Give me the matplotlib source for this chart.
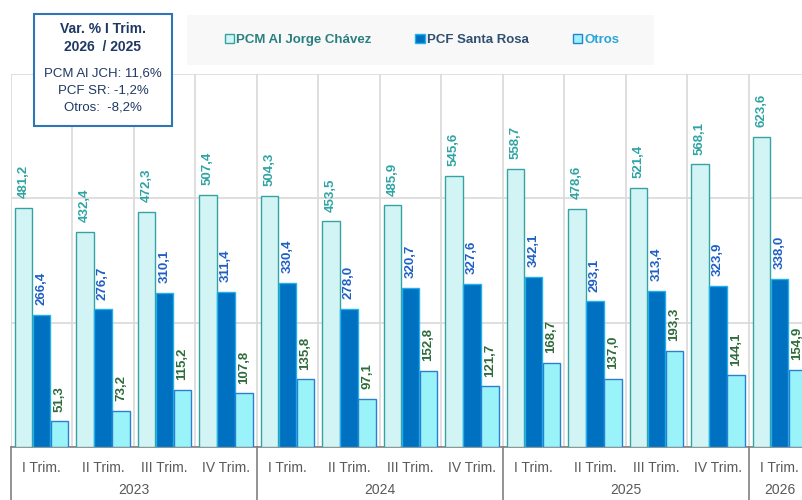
import matplotlib
matplotlib.use('Agg')
import matplotlib.pyplot as plt
from matplotlib.patches import Rectangle
import numpy as np

plt.rcParams['font.family'] = ['Liberation Sans', 'DejaVu Sans']

quarters = ['I Trim.', 'II Trim.', 'III Trim.', 'IV Trim.'] * 3 + ['I Trim.']
years = ['2023', '2024', '2025', '2026']
pcm = [481.2, 432.4, 472.3, 507.4, 504.3, 453.5, 485.9, 545.6, 558.7, 478.6, 521.4, 568.1, 623.6]
pcf = [266.4, 276.7, 310.1, 311.4, 330.4, 278.0, 320.7, 327.6, 342.1, 293.1, 313.4, 323.9, 338.0]
otros = [51.3, 73.2, 115.2, 107.8, 135.8, 97.1, 152.8, 121.7, 168.7, 137.0, 193.3, 144.1, 154.9]
series_names = ['PCM Al Jorge Chávez', 'PCF Santa Rosa', 'Otros']
var_lines = ['PCM Al JCH: 11,6%', 'PCF SR: -1,2%', 'Otros:  -8,2%']

W, H = 803, 500
fig = plt.figure(figsize=(W / 100, H / 100), dpi=100)
# plot area runs past the right edge, the last group is cut like in the source
ax = fig.add_axes([11 / W, 53 / H, 799.5 / W, 373 / H])

x = np.arange(len(pcm))
width = 0.285
styles = [
    dict(data=pcm, off=-0.30, fc='#d3f4f5', ec='#35a3a3', lc='#2fa3a3'),
    dict(data=pcf, off=-0.005, fc='#0070c0', ec='#1fb0ee', lc='#1f5fc4'),
    dict(data=otros, off=0.29, fc='#9bf3fa', ec='#2a7fd0', lc='#2e6b3a'),
]
handles = []
for s, name in zip(styles, series_names):
    b = ax.bar(x + s['off'], s['data'], width, color=s['fc'], edgecolor=s['ec'],
               linewidth=1.0, label=name, zorder=3)
    handles.append(b)
    for xi, v in zip(x + s['off'], s['data']):
        ax.annotate(f'{v:.1f}'.replace('.', ','), (xi, v), xytext=(0, 7),
                    textcoords='offset points', rotation=90, ha='center', va='bottom',
                    fontsize=9.5, fontweight='bold', color=s['lc'], zorder=4)

ax.set_xlim(-0.5, len(pcm) - 0.5)
ax.set_ylim(0, 750)
ax.set_yticks([0, 250, 500, 750])
ax.set_xticks(np.arange(-0.5, len(pcm), 1), minor=False)
ax.grid(True, axis='both', color='#d9d9d9', linewidth=1.2, zorder=0)
ax.tick_params(axis='both', length=0, labelbottom=False, labelleft=False)
for sp in ['top', 'right', 'left']:
    ax.spines[sp].set_visible(False)
ax.spines['bottom'].set_color('#808080')
ax.spines['bottom'].set_linewidth(1.2)

# quarter and year labels below the axis
for i, q in enumerate(quarters):
    ax.text(i, -0.055, q, transform=ax.get_xaxis_transform(), ha='center', va='center',
            fontsize=10, color='#595959')
for k, y in enumerate(years):
    start = 4 * k
    end = min(4 * k + 3, len(pcm) - 1)
    ax.text((start + end) / 2, -0.115, y, transform=ax.get_xaxis_transform(),
            ha='center', va='center', fontsize=10, color='#595959')
    ax.plot([start - 0.5, start - 0.5], [0, -0.2], transform=ax.get_xaxis_transform(),
            color='#808080', linewidth=1.2, clip_on=False)

# legend with light background
fig.patches.append(Rectangle((187 / W, 1 - 65 / H), 467 / W, 50 / H, transform=fig.transFigure,
                             facecolor='#f8f8f8', edgecolor='none', zorder=1))
leg = fig.legend(handles=handles, loc='center', bbox_to_anchor=(422 / W, 1 - 40 / H),
                 ncol=3, frameon=False, handlelength=0.7, handleheight=0.7,
                 handletextpad=0.2, columnspacing=3.3,
                 labelcolor=['#2a8080', '#2f5070', '#2aa5d8'],
                 prop={'weight': 'bold', 'size': 9.5})

# text box with the quarterly variation
fig.patches.append(Rectangle((34 / W, 1 - 126 / H), 138 / W, 112 / H, transform=fig.transFigure,
                             facecolor='white', edgecolor='#2e75b6', linewidth=1.5, zorder=5))
fig.text(103 / W, 1 - 29 / H, 'Var. % I Trim.', ha='center', va='center', fontsize=10,
         fontweight='bold', color='#1f3864', zorder=6)
fig.text(103 / W, 1 - 47 / H, '2026  / 2025', ha='center', va='center', fontsize=10,
         fontweight='bold', color='#1f3864', zorder=6)
for j, t in enumerate(var_lines):
    fig.text(103 / W, 1 - (74 + 17 * j) / H, t, ha='center', va='center', fontsize=9.5,
             color='#1f3864', zorder=6)

fig.savefig('out.png', dpi=100)
